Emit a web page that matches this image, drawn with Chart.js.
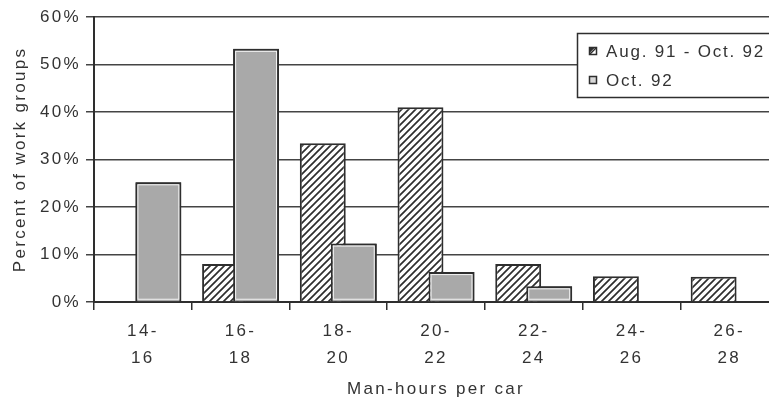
<!DOCTYPE html>
<html><head><meta charset="utf-8">
<script src="https://cdn.jsdelivr.net/npm/chart.js@4/dist/chart.umd.min.js"></script>
<style>
html,body{margin:0;padding:0;background:#fff;overflow:hidden;}
#wrap{position:relative;width:790px;height:406px;}
</style></head><body>
<div id="wrap"><canvas id="c"></canvas></div>
<script>
const categories = [["14-","16"],["16-","18"],["18-","20"],["20-","22"],["22-","24"],["24-","26"],["26-","28"]];
const seriesNames = ["Aug. 91 - Oct. 92", "Oct. 92"];
const augToOct = [null, 8, 33.4, 41, 8, 5.4, 5.3];
const oct92 = [25.2, 53.3, 12.3, 6.3, 3.3, null, null];
const yMin = 0, yMax = 60, yStep = 10;
const xTitle = "Man-hours per car";
const yTitle = "Percent of work groups";

const INK = '#2e2e2e';
const TEXT = '#333';
const GRAY = '#a9a9a9';
const FONT = "'Liberation Sans', Arial, sans-serif";

function makeHatch(ctx) {
  const s = 7;
  const c = document.createElement('canvas');
  c.width = s; c.height = s;
  const g = c.getContext('2d');
  g.fillStyle = '#fff'; g.fillRect(0, 0, s, s);
  g.strokeStyle = INK; g.lineWidth = 1.7;
  g.beginPath();
  g.moveTo(0, s); g.lineTo(s, 0);
  g.moveTo(-1, 1); g.lineTo(1, -1);
  g.moveTo(s - 1, s + 1); g.lineTo(s + 1, s - 1);
  g.stroke();
  return ctx.createPattern(c, 'repeat');
}

const ctx = document.getElementById('c').getContext('2d');
const hatch = makeHatch(ctx);

const spacingPlugin = {
  id: 'spacing',
  beforeLayout(chart) { chart.ctx.letterSpacing = '2.3px'; },
  beforeDraw(chart) { chart.ctx.letterSpacing = '2.3px'; }
};

const overlayPlugin = {
  id: 'overlay',
  afterDatasetsDraw(chart) {
    const c = chart.ctx;
    const meta = chart.getDatasetMeta(1);
    c.save();
    meta.data.forEach((el, i) => {
      if (oct92[i] == null) return;
      el.draw(c, chart.chartArea);
      const p = el.getProps(['x', 'y', 'base', 'width'], true);
      const l = p.x - p.width / 2, t = p.y;
      c.strokeStyle = '#f4f4f4';
      c.lineWidth = 1;
      c.strokeRect(l + 2.5, t + 2.5, p.width - 5, p.base - t - 4.5);
    });
    c.restore();
  },
  afterDraw(chart) {
    const c = chart.ctx;
    c.save();
    const bx = 577.5, by = 33.5, bw = 210, bh = 64;
    c.fillStyle = '#fff';
    c.fillRect(bx, by, bw, bh);
    c.strokeStyle = INK; c.lineWidth = 1.5;
    c.strokeRect(bx, by, bw, bh);
    // icon 1 (hatched)
    c.fillStyle = '#fff';
    c.fillRect(589, 47, 8, 8);
    c.lineWidth = 1.5; c.strokeStyle = INK;
    c.strokeRect(589.5, 47.5, 7, 7);
    c.beginPath(); c.moveTo(589.5, 54.5); c.lineTo(596.5, 47.5); c.stroke();
    c.fillStyle = INK;
    c.beginPath(); c.moveTo(589.5, 47.5); c.lineTo(595, 47.5); c.lineTo(589.5, 53); c.closePath(); c.fill();
    // icon 2 (gray)
    c.fillStyle = '#d8d8d8';
    c.fillRect(589, 76, 8, 8);
    c.strokeRect(589.5, 76.5, 7, 7);
    c.fillStyle = TEXT;
    c.font = "17px " + FONT;
    c.letterSpacing = '1.8px';
    c.textBaseline = 'middle';
    c.textAlign = 'left';
    c.fillText(seriesNames[0], 606, 52);
    c.fillText(seriesNames[1], 606, 81);
    c.restore();
  }
};

new Chart(ctx, {
  type: 'bar',
  data: {
    labels: categories,
    datasets: [
      { label: seriesNames[0], data: augToOct, backgroundColor: hatch, borderColor: INK, borderWidth: 2 },
      { label: seriesNames[1], data: oct92, backgroundColor: GRAY, borderColor: INK, borderWidth: 2 }
    ]
  },
  options: {
    responsive: true,
    maintainAspectRatio: false,
    animation: false,
    events: [],
    categoryPercentage: 0.635,
    barPercentage: 1.48,
    layout: { padding: { top: 17, right: 12, left: 0, bottom: 0 } },
    plugins: { legend: { display: false }, tooltip: { enabled: false } },
    scales: {
      x: {
        afterFit(s) { s.height = 104; },
        grid: { display: true, drawOnChartArea: false, drawTicks: true, tickLength: 8, offset: true, color: INK, lineWidth: 1.5 },
        border: { display: true, color: INK, width: 2 },
        ticks: { color: TEXT, font: { family: FONT, size: 17, lineHeight: 1.6 }, padding: 8, maxRotation: 0 },
        title: { display: true, text: xTitle, color: TEXT, font: { family: FONT, size: 17, lineHeight: 1.2 }, padding: { top: 0, bottom: 6 } }
      },
      y: {
        min: yMin, max: yMax,
        afterFit(s) { s.width = 94; },
        grid: { color: '#444', lineWidth: 1.5, tickLength: 8, drawTicks: true },
        border: { display: true, color: INK, width: 2 },
        ticks: { stepSize: yStep, color: TEXT, padding: 5, font: { family: FONT, size: 17 }, callback: v => v + '%' },
        title: { display: true, text: yTitle, color: TEXT, font: { family: FONT, size: 17, lineHeight: 1.2 }, padding: { top: 10, bottom: 0 } }
      }
    }
  },
  plugins: [spacingPlugin, overlayPlugin]
});
</script>
</body></html>
